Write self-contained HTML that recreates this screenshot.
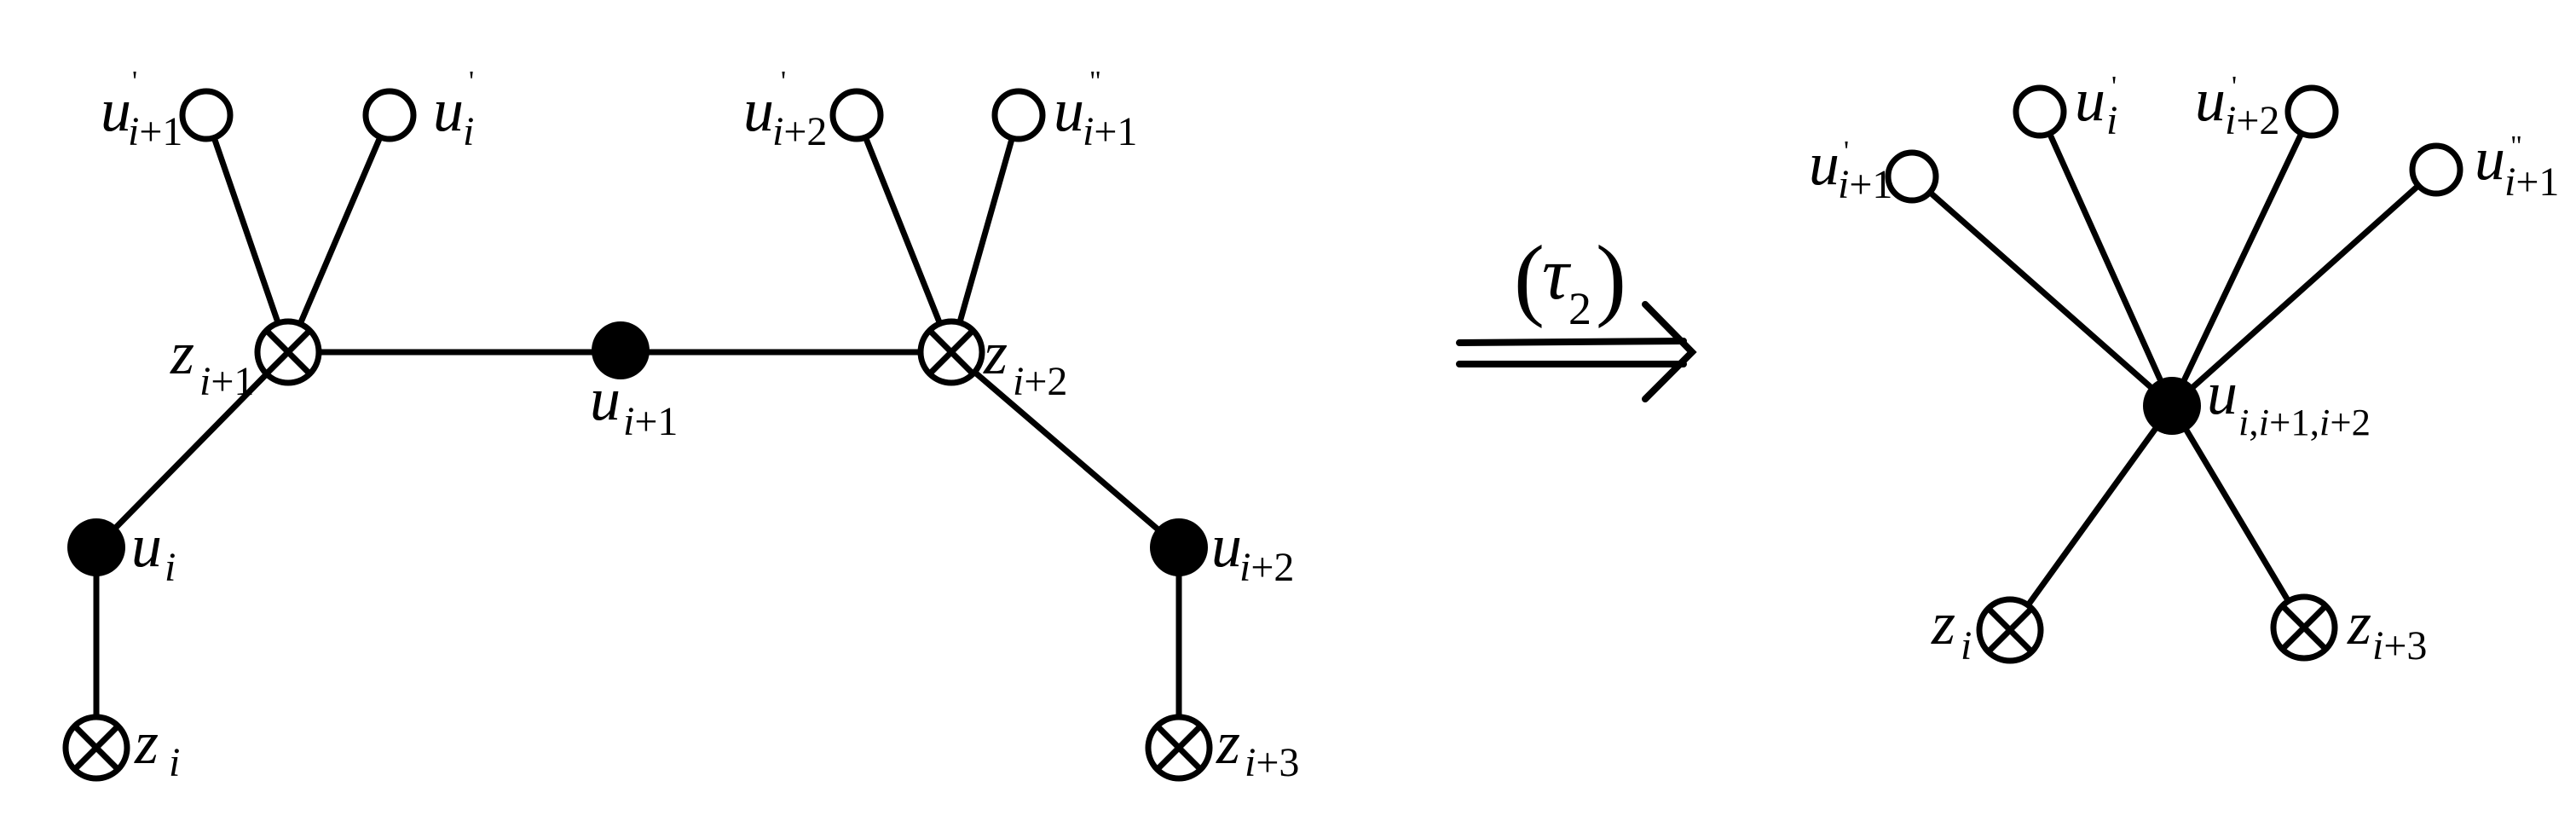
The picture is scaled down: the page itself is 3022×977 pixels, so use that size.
<!DOCTYPE html>
<html><head><meta charset="utf-8"><style>html,body{margin:0;padding:0;background:#fff}svg{display:block}text{font-family:"Liberation Serif","Times New Roman",serif}</style></head>
<body>
<svg width="3022" height="977" viewBox="0 0 3022 977" xmlns="http://www.w3.org/2000/svg">
<rect width="3022" height="977" fill="#fff"/>
<g stroke="#000" stroke-width="7" fill="none" stroke-linecap="round">
<line x1="242" y1="135" x2="338" y2="413"/>
<line x1="457" y1="135" x2="338" y2="413"/>
<line x1="338" y1="413" x2="1116" y2="413"/>
<line x1="1005" y1="135" x2="1116" y2="413"/>
<line x1="1195" y1="135" x2="1116" y2="413"/>
<line x1="338" y1="413" x2="113" y2="642"/>
<line x1="113" y1="642" x2="113" y2="877"/>
<line x1="1116" y1="413" x2="1383" y2="642"/>
<line x1="1383" y1="642" x2="1383" y2="877"/>
<line x1="2548" y1="476" x2="2243" y2="207"/>
<line x1="2548" y1="476" x2="2393" y2="131"/>
<line x1="2548" y1="476" x2="2712" y2="131"/>
<line x1="2548" y1="476" x2="2858" y2="199"/>
<line x1="2548" y1="476" x2="2358" y2="739"/>
<line x1="2548" y1="476" x2="2703" y2="736"/>
<line x1="1712" y1="402" x2="1975" y2="400" stroke-width="8"/>
<line x1="1712" y1="427" x2="1975" y2="427" stroke-width="8"/>
<polyline points="1930,357 1985,413 1930,468" stroke-width="8"/>
</g>
<g stroke="#000" stroke-width="7" fill="#fff">
<circle cx="242" cy="135" r="28"/>
<circle cx="457" cy="135" r="28"/>
<circle cx="1005" cy="135" r="28"/>
<circle cx="1195" cy="135" r="28"/>
<circle cx="2243" cy="207" r="28"/>
<circle cx="2393" cy="131" r="28"/>
<circle cx="2712" cy="131" r="28"/>
<circle cx="2858" cy="199" r="28"/>
</g>
<g fill="#000">
<circle cx="728" cy="411" r="34"/>
<circle cx="113" cy="642" r="34"/>
<circle cx="1383" cy="642" r="34"/>
<circle cx="2548" cy="476" r="34"/>
</g>
<g stroke="#000" stroke-width="7" fill="#fff">
<g transform="translate(338,413)"><circle r="36"/><path d="M-25,-25L25,25M-25,25L25,-25"/></g>
<g transform="translate(1116,413)"><circle r="36"/><path d="M-25,-25L25,25M-25,25L25,-25"/></g>
<g transform="translate(113,877)"><circle r="36"/><path d="M-25,-25L25,25M-25,25L25,-25"/></g>
<g transform="translate(1383,877)"><circle r="36"/><path d="M-25,-25L25,25M-25,25L25,-25"/></g>
<g transform="translate(2358,739)"><circle r="36"/><path d="M-25,-25L25,25M-25,25L25,-25"/></g>
<g transform="translate(2703,736)"><circle r="36"/><path d="M-25,-25L25,25M-25,25L25,-25"/></g>
</g>
<g fill="#000">
<g font-size="72" font-style="italic">
<text x="118" y="153">u</text><text x="508" y="153">u</text>
<text x="200" y="438">z</text><text x="692" y="492">u</text>
<text x="1154" y="438">z</text><text x="872" y="153">u</text>
<text x="1236" y="153">u</text><text x="154" y="664">u</text>
<text x="1421" y="664">u</text><text x="158" y="895">z</text>
<text x="1427" y="895">z</text>
<text x="2122" y="216">u</text><text x="2434" y="141">u</text>
<text x="2575" y="141">u</text><text x="2903" y="210">u</text>
<text x="2589" y="485">u</text><text x="2266" y="755">z</text>
<text x="2754" y="755">z</text>
</g>
<g font-size="48">
<text x="150" y="170"><tspan font-style="italic">i</tspan>+1</text>
<text x="543" y="170" font-style="italic">i</text>
<text x="234" y="463"><tspan font-style="italic">i</tspan>+1</text>
<text x="731" y="510"><tspan font-style="italic">i</tspan>+1</text>
<text x="1188" y="463"><tspan font-style="italic">i</tspan>+2</text>
<text x="906" y="170"><tspan font-style="italic">i</tspan>+2</text>
<text x="1270" y="170"><tspan font-style="italic">i</tspan>+1</text>
<text x="193" y="681" font-style="italic">i</text>
<text x="1454" y="681"><tspan font-style="italic">i</tspan>+2</text>
<text x="198" y="910" font-style="italic">i</text>
<text x="1460" y="910"><tspan font-style="italic">i</tspan>+3</text>
<text x="2156" y="232"><tspan font-style="italic">i</tspan>+1</text>
<text x="2471" y="157" font-style="italic">i</text>
<text x="2610" y="157"><tspan font-style="italic">i</tspan>+2</text>
<text x="2938" y="229"><tspan font-style="italic">i</tspan>+1</text>
<text x="2626" y="510" font-size="44" textLength="155" lengthAdjust="spacingAndGlyphs"><tspan font-style="italic">i</tspan>,<tspan font-style="italic">i</tspan>+1,<tspan font-style="italic">i</tspan>+2</text>
<text x="2300" y="773" font-style="italic">i</text>
<text x="2783" y="773"><tspan font-style="italic">i</tspan>+3</text>
</g>
<g font-size="34">
<text x="155" y="106">'</text><text x="550" y="106">'</text>
<text x="916" y="106">'</text><text x="1278" y="106">"</text>
<text x="2163" y="188">'</text><text x="2477" y="112">'</text>
<text x="2618" y="112">'</text><text x="2945" y="182">"</text>
</g>
<text x="1776" y="362" font-size="108">(</text>
<text x="1809" y="350" font-size="88" font-style="italic">τ</text>
<text x="1840" y="380" font-size="54">2</text>
<text x="1872" y="362" font-size="108">)</text>
</g>
</svg>
</body></html>
